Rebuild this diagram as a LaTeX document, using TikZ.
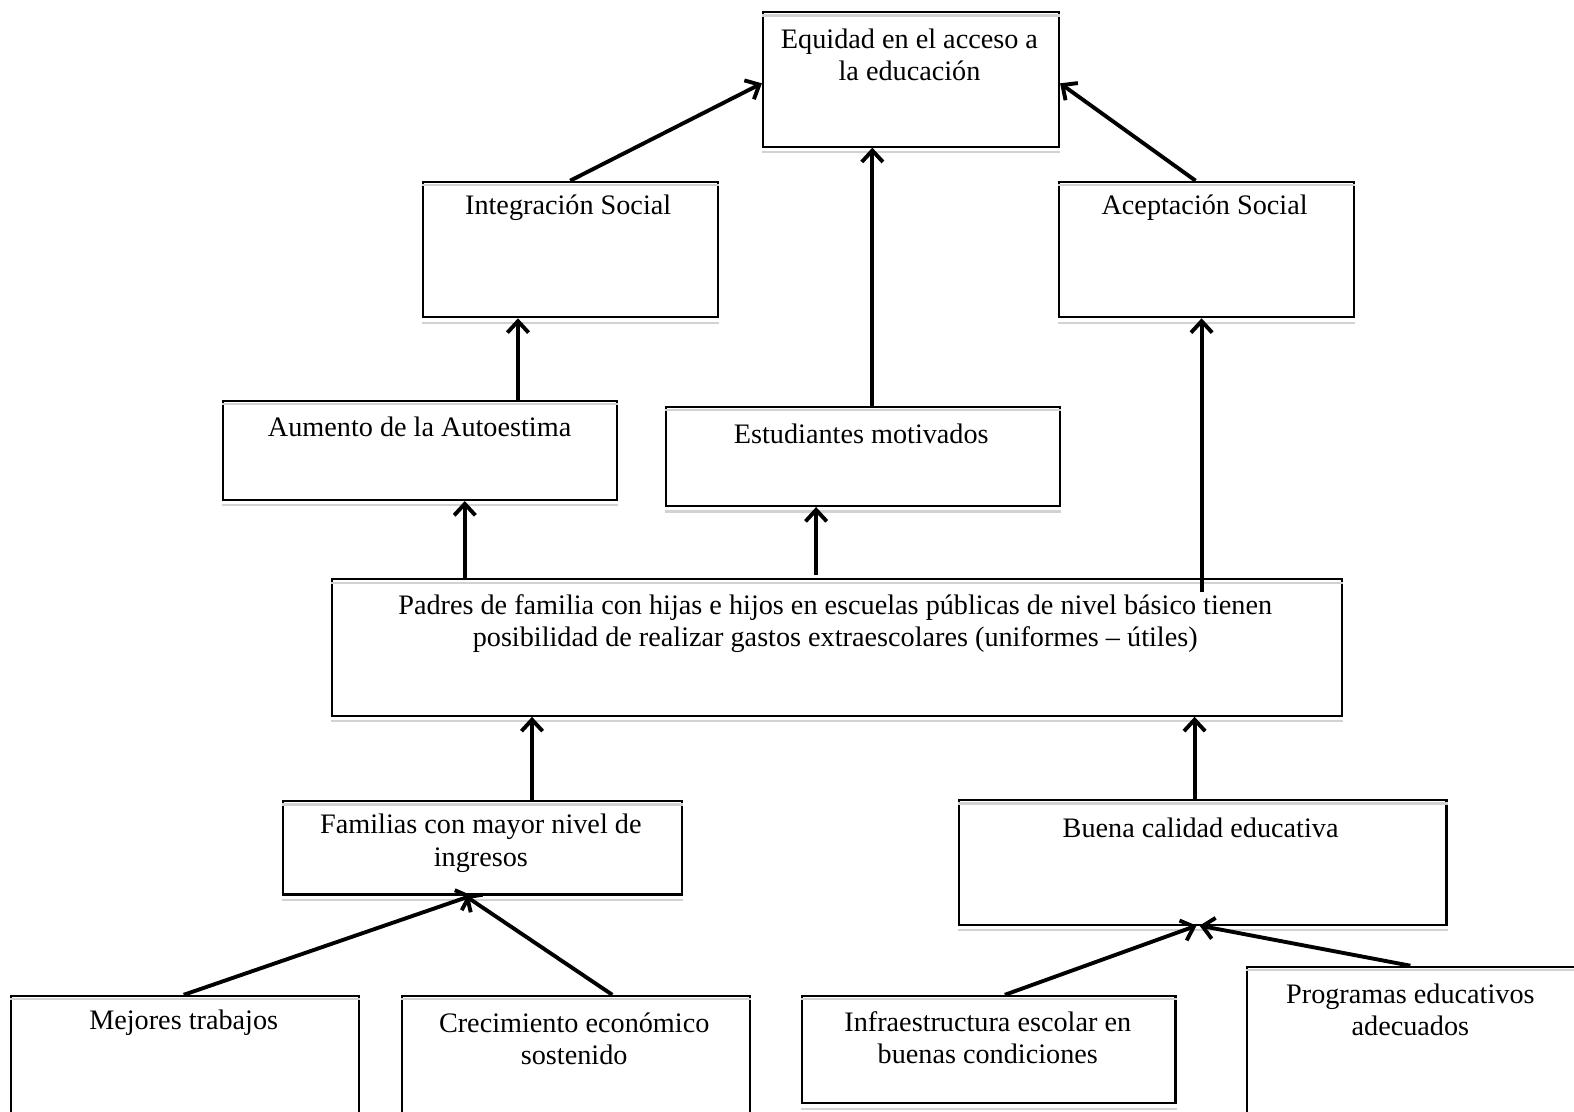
\documentclass[tikz,border=0pt]{standalone}
\usepackage{fontspec}
\setmainfont{Liberation Serif}
\usetikzlibrary{positioning,arrows.meta}

\tikzset{
  caja/.style={draw, line width=1.2pt, anchor=north west, inner sep=0pt},
  texto/.style={inner sep=0pt, align=center, font=\fontsize{16}{18.2}\selectfont},
  flecha/.style={line width=2.2pt, -{Straight Barb[length=6.5pt,width=12pt]}}
}

\begin{document}
\begin{tikzpicture}[x=0.02cm, y=-0.02cm]
\useasboundingbox (0,0) rectangle (1568,1107);
\clip (0,0) rectangle (1568,1107);

% cajas
\node[caja, minimum width=5.90cm, minimum height=2.68cm] (equidad) at (759,11) {};
\node[caja, minimum width=5.88cm, minimum height=2.70cm] (integracion) at (420,180) {};
\node[caja, minimum width=5.88cm, minimum height=2.70cm] (aceptacion) at (1054,180) {};
\node[caja, minimum width=7.86cm, minimum height=1.98cm] (autoestima) at (221,398) {};
\node[caja, minimum width=7.86cm, minimum height=1.98cm] (motivados) at (662,404) {};
\node[caja, minimum width=20.12cm, minimum height=2.72cm] (padres) at (330,576) {};
\node[caja, minimum width=7.94cm, minimum height=1.86cm] (familias) at (281,797) {};
\node[caja, minimum width=9.72cm, minimum height=2.48cm] (calidad) at (954,796) {};
\node[caja, minimum width=6.94cm, minimum height=3.00cm] (trabajos) at (10,991) {};
\node[caja, minimum width=6.94cm, minimum height=3.00cm] (crecimiento) at (399,991) {};
\node[caja, minimum width=7.44cm, minimum height=2.14cm] (infra) at (798,991) {};
\node[caja, minimum width=7.00cm, minimum height=3.40cm] (programas) at (1241,962) {};

% sombra gris
\foreach \n in {equidad,integracion,aceptacion,autoestima,motivados,padres,familias,calidad,trabajos,crecimiento,infra,programas}{
  \draw[gray!35, line width=1.2pt] ([yshift=-2.5pt]\n.north west) -- ([yshift=-2.5pt]\n.north east);
  \draw[gray!35, line width=1.2pt] ([yshift=-2.5pt]\n.south west) -- ([yshift=-2.5pt]\n.south east);
}

% textos
\node[texto] (tequidad) at (906,55) {Equidad en el acceso a\\la educación};
\node[texto] (tintegracion) at (566,207) {Integración Social};
\node[texto] (taceptacion) at (1200,207) {Aceptación Social};
\node[texto] (tautoestima) at (418,425) {Aumento de la Autoestima};
\node[texto] (tmotivados) at (858,432) {Estudiantes motivados};
\node[texto] (tpadres) at (832,621) {Padres de familia con hijas e hijos en escuelas públicas de nivel básico tienen\\posibilidad de realizar gastos extraescolares (uniformes – útiles)};
\node[texto] (tfamilias) at (479,840) {Familias con mayor nivel de\\ingresos};
\node[texto] (tcalidad) at (1196,825) {Buena calidad educativa};
\node[texto] (ttrabajos) at (183,1019) {Mejores trabajos};
\node[texto] (tcrecimiento) at (572,1035) {Crecimiento económico\\sostenido};
\node[texto] (tinfra) at (984,1034) {Infraestructura escolar en\\buenas condiciones};
\node[texto] (tprogramas) at (1405,1006) {Programas educativos\\adecuados};

% puntos de llegada y salida
\coordinate (padresder) at (1197,590);

% flechas
\draw[flecha] (integracion.north -| 568,0) -- (equidad.west |- 0,83);
\draw[flecha] (motivados.north -| 869,0) -- (equidad.south -| 869,0);
\draw[flecha] (aceptacion.north -| 1191,0) -- (equidad.east |- 0,83);
\draw[flecha] (autoestima.north -| 516,0) -- (integracion.south -| 516,0);
\draw[flecha] (padresder) -- (aceptacion.south -| 1197,0);
\draw[flecha] (padres.north -| 463,0) -- (autoestima.south -| 463,0);
\draw[flecha] ([yshift=0.06cm]padres.north -| 813,0) -- (motivados.south -| 813,0);
\draw[flecha] (familias.north -| 530,0) -- (padres.south -| 530,0);
\draw[flecha] (calidad.north -| 1190,0) -- (padres.south -| 1190,0);
\draw[flecha] (trabajos.north -| 183,0) -- (familias.south -| 470,0);
\draw[flecha] (crecimiento.north -| 610,0) -- (familias.south -| 463,0);
\draw[flecha] (infra.north -| 1001,0) -- (calidad.south -| 1192,0);
\draw[flecha] (programas.north -| 1405,0) -- (calidad.south -| 1195,0);

\end{tikzpicture}
\end{document}
